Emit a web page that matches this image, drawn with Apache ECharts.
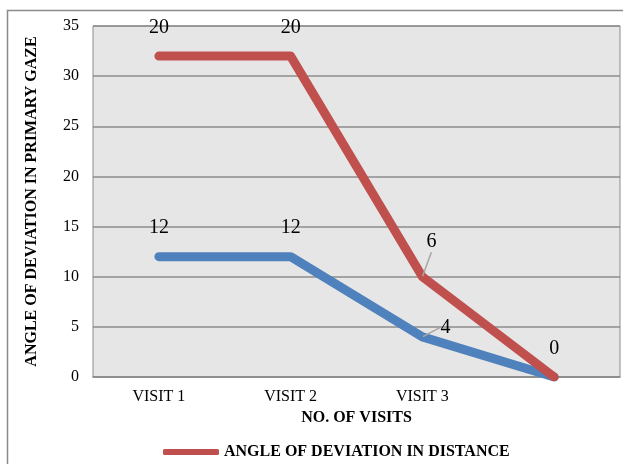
<!DOCTYPE html>
<html>
<head>
<meta charset="utf-8">
<script src="https://cdn.jsdelivr.net/npm/echarts@6/dist/echarts.min.js"></script>
<style>html,body{margin:0;padding:0;background:#fff;}#c{width:623px;height:464px;}</style>
</head>
<body>
<div id="c"></div>
<script>
const categories = ['VISIT 1', 'VISIT 2', 'VISIT 3', ''];
const distanceValues = [32, 32, 10, 0];
const distanceLabels = ['20', '20', '6', '0'];
const nearValues = [12, 12, 4, 0];
const nearLabels = ['12', '12', '4', ''];
const yTicks = [0, 5, 10, 15, 20, 25, 30, 35];

const FONT = '"Liberation Serif", "DejaVu Serif", serif';
const chart = echarts.init(document.getElementById('c'));

function layoutFor(shifts) {
  return function (p) {
    const s = shifts[p.dataIndex];
    return s ? { dx: s[0], dy: s[1] } : {};
  };
}
function withGuide(values, idx) {
  return values.map((v, i) => i === idx ? { value: v, labelLine: { show: true } } : v);
}

chart.setOption({
  animation: false,
  graphic: [{
    type: 'rect', shape: { x: 7.5, y: 10.5, width: 700, height: 600 },
    style: { fill: 'none', stroke: '#8a8a8a', lineWidth: 1.5 }, silent: true, z: -10
  }],
  grid: {
    left: 93, top: 26, right: 3, bottom: 87,
    show: true, backgroundColor: '#e6e6e6', borderColor: '#8c8c8c', borderWidth: 1
  },
  legend: {
    data: ['ANGLE OF DEVIATION IN DISTANCE'],
    left: 158, top: 439,
    icon: 'roundRect', itemWidth: 56, itemHeight: 6, itemGap: 6,
    textStyle: { fontFamily: FONT, fontWeight: 'bold', fontSize: 16, color: '#000' }
  },
  xAxis: {
    type: 'category', data: categories, boundaryGap: true,
    name: 'NO. OF VISITS', nameLocation: 'middle', nameGap: 32,
    nameTextStyle: { fontFamily: FONT, fontWeight: 'bold', fontSize: 16, color: '#000' },
    axisLine: { show: true, lineStyle: { color: '#8c8c8c', width: 1.5 } },
    axisTick: { show: false },
    axisLabel: { fontFamily: FONT, fontSize: 16, color: '#000', margin: 12 },
    splitLine: { show: false }
  },
  yAxis: {
    type: 'value', min: 0, max: 35, interval: 5,
    name: 'ANGLE OF DEVIATION IN PRIMARY GAZE', nameLocation: 'middle', nameGap: 53, nameRotate: 90,
    nameTextStyle: { fontFamily: FONT, fontWeight: 'bold', fontSize: 16, color: '#000' },
    axisLine: { show: false }, axisTick: { show: false },
    axisLabel: {
      fontFamily: FONT, fontSize: 16, color: '#000', margin: 14,
      formatter: v => yTicks.includes(v) ? String(v) : ''
    },
    splitLine: { show: true, lineStyle: { color: '#8c8c8c', width: 1.5 } }
  },
  series: [
    {
      name: 'ANGLE OF DEVIATION IN NEAR', type: 'line', data: withGuide(nearValues, 2),
      symbol: 'circle', symbolSize: 1,
      itemStyle: { color: '#4f81bd' },
      lineStyle: { color: '#4f81bd', width: 9, cap: 'round', join: 'round' },
      label: {
        show: true, position: 'top', distance: 18,
        fontFamily: FONT, fontSize: 20, color: '#000',
        formatter: p => nearLabels[p.dataIndex]
      },
      labelLine: { show: false, lineStyle: { color: '#a6a6a6', width: 1.5 } },
      labelLayout: layoutFor({ 2: [23, 19] }),
      z: 2
    },
    {
      name: 'ANGLE OF DEVIATION IN DISTANCE', type: 'line', data: withGuide(distanceValues, 2),
      symbol: 'circle', symbolSize: 1,
      itemStyle: { color: '#c0504d' },
      lineStyle: { color: '#c0504d', width: 9, cap: 'round', join: 'round' },
      label: {
        show: true, position: 'top', distance: 18,
        fontFamily: FONT, fontSize: 20, color: '#000',
        formatter: p => distanceLabels[p.dataIndex]
      },
      labelLine: { show: false, lineStyle: { color: '#a6a6a6', width: 1.5 } },
      labelLayout: layoutFor({ 2: [9, -6] }),
      z: 3
    }
  ]
});
</script>
</body>
</html>
